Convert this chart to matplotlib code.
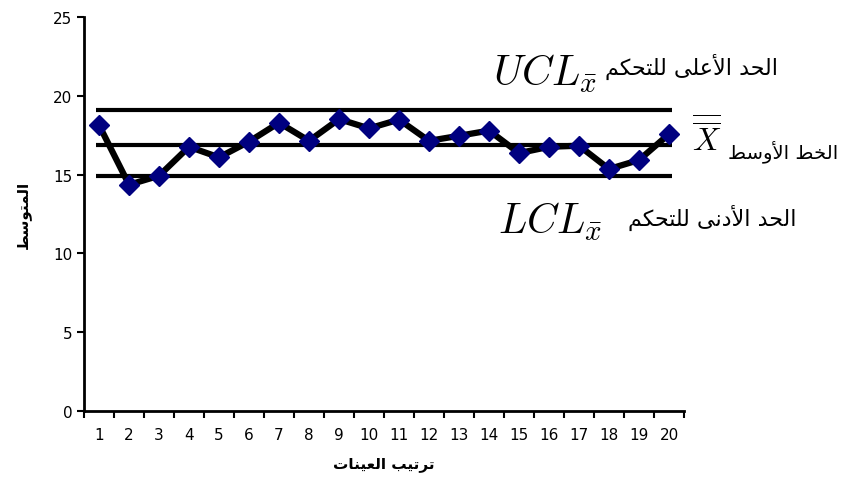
#!/usr/bin/env python3
#
# X-bar control chart: sample means with upper/centre/lower control limits
# Output: out.png

import matplotlib
matplotlib.use('Agg')
import matplotlib.pyplot as plt

samples = list(range(1, 21))
means = [18.15, 14.36, 14.93, 16.77, 16.10, 17.10, 18.30, 17.15, 18.53, 17.94,
         18.50, 17.15, 17.47, 17.80, 16.37, 16.77, 16.84, 15.36, 15.93, 17.58]
ucl = 19.1
centre = 16.9
lcl = 14.9

ylabel = 'المتوسط'
xlabel = 'ترتيب العينات'
ucl_label = 'الحد الأعلى للتحكم'
cl_label = 'الخط الأوسط'
lcl_label = 'الحد الأدنى للتحكم'

# Arabic presentation forms: (isolated, final, initial, medial)
FORMS = {
    'ا': (0xFE8D, 0xFE8E, None, None),
    'أ': (0xFE83, 0xFE84, None, None),
    'ب': (0xFE8F, 0xFE90, 0xFE91, 0xFE92),
    'ت': (0xFE95, 0xFE96, 0xFE97, 0xFE98),
    'ح': (0xFEA1, 0xFEA2, 0xFEA3, 0xFEA4),
    'خ': (0xFEA5, 0xFEA6, 0xFEA7, 0xFEA8),
    'د': (0xFEA9, 0xFEAA, None, None),
    'ر': (0xFEAD, 0xFEAE, None, None),
    'س': (0xFEB1, 0xFEB2, 0xFEB3, 0xFEB4),
    'ط': (0xFEC1, 0xFEC2, 0xFEC3, 0xFEC4),
    'ع': (0xFEC9, 0xFECA, 0xFECB, 0xFECC),
    'ك': (0xFED9, 0xFEDA, 0xFEDB, 0xFEDC),
    'ل': (0xFEDD, 0xFEDE, 0xFEDF, 0xFEE0),
    'م': (0xFEE1, 0xFEE2, 0xFEE3, 0xFEE4),
    'ن': (0xFEE5, 0xFEE6, 0xFEE7, 0xFEE8),
    'و': (0xFEED, 0xFEEE, None, None),
    'ى': (0xFEEF, 0xFEF0, None, None),
    'ي': (0xFEF1, 0xFEF2, 0xFEF3, 0xFEF4),
}
LAM_ALEF = {'ا': (0xFEFB, 0xFEFC), 'أ': (0xFEF7, 0xFEF8)}


def shape(text):
    # matplotlib has no Arabic shaping, so join letters and reverse by hand
    words = []
    for word in text.split(' '):
        glyphs = []
        prev_joins = False
        i = 0
        while i < len(word):
            c = word[i]
            if c == 'ل' and i + 1 < len(word) and word[i + 1] in LAM_ALEF:
                iso, fin = LAM_ALEF[word[i + 1]]
                glyphs.append(chr(fin if prev_joins else iso))
                prev_joins = False
                i += 2
                continue
            iso, fin, ini, med = FORMS[c]
            joins_next = ini is not None and i + 1 < len(word)
            if prev_joins and joins_next:
                g = med
            elif prev_joins:
                g = fin
            elif joins_next:
                g = ini
            else:
                g = iso
            glyphs.append(chr(g))
            prev_joins = joins_next
            i += 1
        words.append(''.join(reversed(glyphs)))
    return ' '.join(reversed(words))


def main():
    plt.rcParams['font.family'] = ['DejaVu Sans']
    plt.rcParams['mathtext.fontset'] = 'cm'

    fig = plt.figure(figsize=(8.42, 4.89), dpi=100)
    ax = fig.add_axes([0.0998, 0.158, 0.7126, 0.8046])

    # control limits
    ax.hlines([ucl, centre, lcl], 0.9, 20.1, colors='black', linewidth=3)

    # sample means
    ax.plot(samples, means, color='black', linewidth=4.5, zorder=3,
            marker='D', markersize=10, markerfacecolor='#000080',
            markeredgecolor='#000080')

    ax.set_xlim(0.5, 20.5)
    ax.set_ylim(0, 25)
    ax.set_yticks(range(0, 26, 5))
    ax.set_xticks([s - 0.5 for s in samples] + [20.5])
    ax.set_xticklabels([])
    ax.set_xticks(samples, minor=True)
    ax.set_xticklabels([str(s) for s in samples], minor=True)
    ax.tick_params(axis='x', which='minor', length=0, pad=12, labelsize=11)
    ax.tick_params(axis='x', which='major', direction='out', length=5, width=1.5)
    ax.tick_params(axis='y', direction='out', length=5, width=1.5, labelsize=11)

    for side in ('top', 'right'):
        ax.spines[side].set_visible(False)
    for side in ('left', 'bottom'):
        ax.spines[side].set_linewidth(2)

    ax.set_ylabel(shape(ylabel), fontsize=11, fontweight='bold', labelpad=16)
    ax.set_xlabel(shape(xlabel), fontsize=11, fontweight='bold', labelpad=10)

    # limit labels to the right of the lines
    fig.text(493 / 842, 1 - 74 / 489, r'$UCL_{\bar{x}}$', fontsize=30,
             ha='left', va='center')
    fig.text(778 / 842, 1 - 67 / 489, shape(ucl_label), fontsize=16,
             ha='right', va='center')
    fig.text(692 / 842, 1 - 138 / 489, r'$\overline{\overline{X}}$', fontsize=23,
             ha='left', va='center')
    fig.text(838 / 842, 1 - 152 / 489, shape(cl_label), fontsize=14,
             ha='right', va='center')
    fig.text(498 / 842, 1 - 222 / 489, r'$LCL_{\bar{x}}$', fontsize=30,
             ha='left', va='center')
    fig.text(797 / 842, 1 - 218 / 489, shape(lcl_label), fontsize=16,
             ha='right', va='center')

    fig.savefig('out.png', dpi=100)


if __name__ == '__main__':
    main()
